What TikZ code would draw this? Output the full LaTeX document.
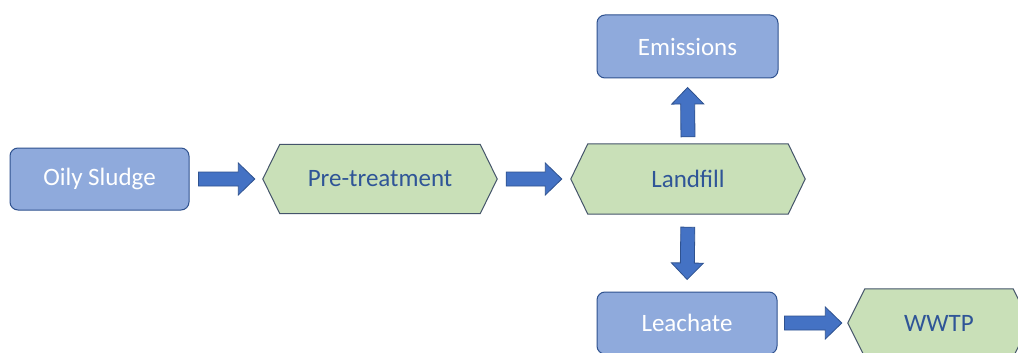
\documentclass[tikz,border=0pt]{standalone}
\usepackage{fontspec}
\setmainfont{Carlito}
\usetikzlibrary{calc,backgrounds}
\definecolor{boxfill}{HTML}{8FAADC}
\definecolor{boxdraw}{HTML}{2F528F}
\definecolor{hexfill}{HTML}{C9E0B8}
\definecolor{hexdraw}{HTML}{44546A}
\definecolor{hextext}{HTML}{2F5597}
\definecolor{arrfill}{HTML}{4472C4}
\definecolor{arrdraw}{HTML}{2F528F}
\begin{document}
\begin{tikzpicture}[x=1pt,y=-1pt,
  every node/.style={font=\fontsize{25}{30}\selectfont, inner sep=0pt},
  bluebox/.style={rectangle, rounded corners=8pt, draw=boxdraw, fill=boxfill,
    line width=1pt, text=white, minimum width=180pt, minimum height=62pt},
  hexnode/.style={rectangle, text=hextext, minimum width=234pt, minimum height=69pt},
  hexshape/.style={draw=hexdraw, fill=hexfill, line width=1pt, line join=miter},
  blockarrow/.style 2 args={draw=arrdraw, fill=arrfill, line width=0.8pt, line join=miter,
    to path={let \p1=($(\tikztostart)!#1!(\tikztotarget)$),
                 \p2=($(\tikztotarget)!#2!(\tikztostart)$),
                 \p3=($(\p2)!16.5pt!(\p1)$) in
      ($(\p1)!7pt!90:(\p2)$) -- ($(\p3)!7pt!-90:(\p1)$) -- ($(\p3)!16pt!-90:(\p1)$)
      -- (\p2) -- ($(\p3)!16pt!90:(\p1)$) -- ($(\p3)!7pt!90:(\p1)$)
      -- ($(\p1)!7pt!-90:(\p2)$) -- cycle}}]
\useasboundingbox (0,0) rectangle (1018,353);
\clip (0,0) rectangle (1018,353);

\node[bluebox, minimum width=179pt] (os) at (99.5,179) {Oily Sludge};
\node[hexnode] (pt) at (380,179) {Pre-treatment};
\node[hexnode, minimum height=70pt] (lf) at (688,179) {Landfill};
\node[bluebox, minimum width=181pt, minimum height=63pt] (em) at (687.5,46.5) {Emissions};
\node[bluebox] (le) at (687,323) {Leachate};
\node[hexnode, minimum width=182pt, minimum height=68pt] (ww) at (939,323) {WWTP};

\begin{scope}[on background layer]
\fill[white] (0,0) rectangle (1018,353);
\foreach \n in {pt,lf,ww}{
  \draw[hexshape] (\n.west) -- ([xshift=17pt]\n.north west) -- ([xshift=-17pt]\n.north east)
    -- (\n.east) -- ([xshift=-17pt]\n.south east) -- ([xshift=17pt]\n.south west) -- cycle;
}
\end{scope}

\draw[blockarrow={9pt}{8pt}] (os.east) to (pt.west);
\draw[blockarrow={9pt}{9pt}] (pt.east) to (lf.west);
\draw[blockarrow={7pt}{9pt}] (lf.north) to (em.south);
\draw[blockarrow={13pt}{12pt}] (lf.south) to (le.north);
\draw[blockarrow={7pt}{6pt}] (le.east) to (ww.west);
\end{tikzpicture}
\end{document}
